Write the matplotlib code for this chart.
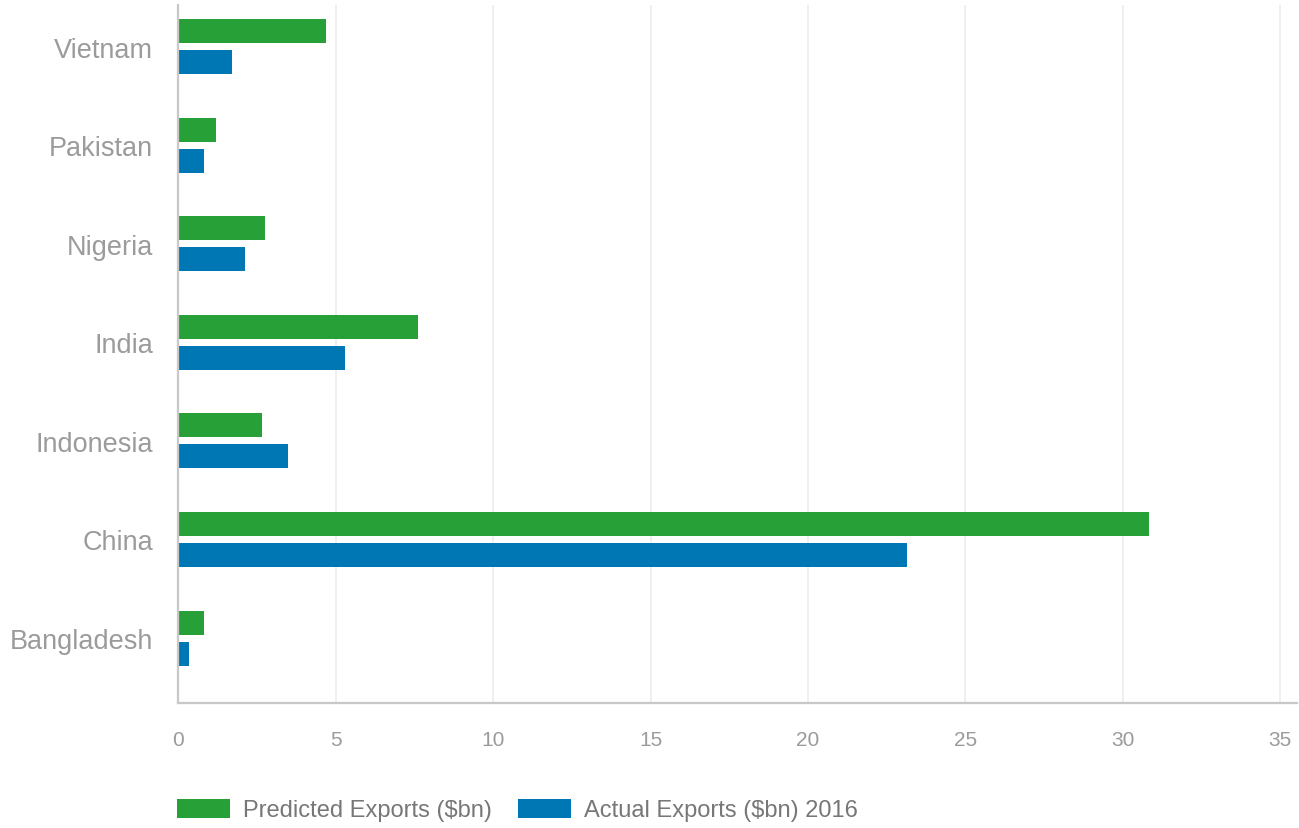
import numpy as np
import matplotlib
matplotlib.use("Agg")
import matplotlib.pyplot as plt

countries = ["Vietnam", "Pakistan", "Nigeria", "India", "Indonesia", "China", "Bangladesh"]
predicted = [4.68, 1.19, 2.77, 7.60, 2.67, 30.84, 0.83]
actual = [1.70, 0.83, 2.13, 5.31, 3.48, 23.15, 0.35]
series_names = ["Predicted Exports ($bn)", "Actual Exports ($bn) 2016"]
xticks = [0, 5, 10, 15, 20, 25, 30, 35]

GREEN = "#28a038"
BLUE = "#0077b5"
AXIS = "#c8c8c8"
GRID = "#efefef"
LABEL = "#9b9b9b"
LEGEND_TXT = "#777777"

W, H = 1299, 829
fig = plt.figure(figsize=(W / 100, H / 100), dpi=100)
plt.rcParams["font.family"] = ["Liberation Sans", "DejaVu Sans"]

left_px, right_px, top_px, bottom_px = 178.2, 1297, 6, 704.3
ax = fig.add_axes([left_px / W, 1 - bottom_px / H,
                   (right_px - left_px) / W, (bottom_px - top_px) / H])

px_per_unit = 31.49
ax.set_xlim(0, (right_px - left_px) / px_per_unit)

# category layout (pixels): first center and spacing
c0, step = 47.5, 98.6
ax.set_ylim((bottom_px - c0) / step, (top_px - c0) / step)

y = np.arange(len(countries))
bar_h = 24 / step
off = 15.5 / step
ax.barh(y - off, predicted, height=bar_h, color=GREEN, label=series_names[0], zorder=3)
ax.barh(y + off, actual, height=bar_h, color=BLUE, label=series_names[1], zorder=3)

ax.set_yticks(y)
ax.set_yticklabels(countries, fontsize=19.5, color=LABEL)
ax.set_xticks(xticks)
ax.set_xticklabels([str(t) for t in xticks], fontsize=15, color=LABEL)
ax.tick_params(axis="y", length=0, pad=18)
ax.tick_params(axis="x", length=0, pad=19)

ax.grid(axis="x", color=GRID, linewidth=1.4, zorder=0)
ax.set_axisbelow(True)
for s in ["top", "right"]:
    ax.spines[s].set_visible(False)
for s in ["left", "bottom"]:
    ax.spines[s].set_color(AXIS)
    ax.spines[s].set_linewidth(1.6)
    ax.spines[s].set_zorder(4)

fs = 17
fsp = fs * 100 / 72
leg = fig.legend(loc="center left", bbox_to_anchor=(177.3 / W, 1 - 811 / H),
                 ncol=2, frameon=False, fontsize=fs,
                 handlelength=53 / fsp, handleheight=21 / fsp,
                 handletextpad=13 / fsp, columnspacing=26 / fsp,
                 borderpad=0, borderaxespad=0)
for t in leg.get_texts():
    t.set_color(LEGEND_TXT)

fig.savefig("out.png", dpi=100)
